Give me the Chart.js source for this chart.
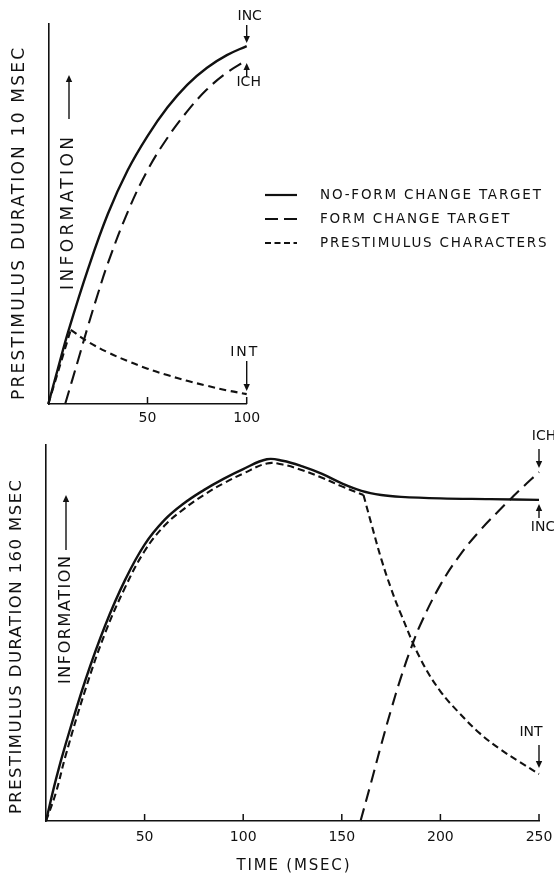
<!DOCTYPE html>
<html><head><meta charset="utf-8">
<script src="https://cdn.jsdelivr.net/npm/chart.js@4.4.1/dist/chart.umd.min.js"></script>
<style>
html,body{margin:0;padding:0;background:#fff;}
#wrap{position:relative;width:554px;height:879px;overflow:hidden;background:#fff;}
.box{position:absolute;left:0;}
</style></head><body>
<div id="wrap">
<div class="box" style="top:0;width:554px;height:430px"><canvas id="c1" width="554" height="430"></canvas></div>
<div class="box" style="top:420px;width:554px;height:459px"><canvas id="c2" width="554" height="459"></canvas></div>
</div>
<script>
// ---------- DATA ----------
const topTickLabels = [50, 100];
const botTickLabels = [50, 100, 150, 200, 250];
const legendLabels = ['NO-FORM CHANGE TARGET', 'FORM CHANGE TARGET', 'PRESTIMULUS CHARACTERS'];

// top panel: prestimulus duration 10 msec
const topNoFormX = [0, 5, 10, 20, 30, 40, 50, 60, 70, 80, 90, 100];
const topNoFormY = [0, 9.6, 19, 35.5, 50, 61.5, 70.5, 78, 84, 88.5, 91.8, 94.2];
const topFormX = [8.5, 15, 20, 25, 30, 40, 50, 60, 70, 80, 90, 100];
const topFormY = [0, 11.5, 20.5, 29, 37, 50.5, 61.5, 70, 77, 82.8, 87.2, 90.5];
const topPreRiseX = [0, 11.3];
const topPreRiseY = [0, 19.5];
const topPreFallX = [11.3, 20, 30, 40, 50, 60, 70, 80, 90, 100];
const topPreFallY = [19.5, 16.4, 13.6, 11.3, 9.3, 7.6, 6.1, 4.8, 3.6, 2.6];

// bottom panel: prestimulus duration 160 msec
const botNoFormX = [0, 5, 10, 20, 30, 40, 50, 60, 70, 80, 90, 100, 112, 120, 130, 140, 150, 160, 170, 180, 200, 225, 250];
const botNoFormY = [0, 11, 20.5, 37.5, 52, 64, 73.5, 80, 84.5, 88, 91, 93.6, 96.2, 95.8, 94.3, 92.3, 89.8, 87.8, 86.7, 86.2, 85.8, 85.6, 85.4];
const botFormX = [159.5, 165, 170, 175, 180, 185, 190, 200, 210, 220, 230, 240, 250];
const botFormY = [0, 10.5, 20.3, 29.6, 38.2, 45.8, 52.4, 62.8, 70.8, 77.2, 82.7, 87.9, 92.8];
const botPreRiseX = [0, 5, 10, 20, 30, 40, 50, 60, 70, 80, 90, 100, 112, 120, 130, 140, 150, 161];
const botPreRiseY = [0, 7.5, 17.5, 35, 50, 62, 71.8, 78.5, 83, 86.7, 89.8, 92.4, 95.1, 94.8, 93.3, 91.3, 89, 86.7];
const botPreFallX = [161, 165, 170, 175, 180, 190, 200, 210, 220, 230, 240, 250];
const botPreFallY = [86.7, 79, 69.7, 61.8, 55, 43, 34.5, 28.5, 23.3, 19.2, 15.8, 12.5];

// ---------- STYLE ----------
const INK = '#111111';
const FONT = '"DejaVu Sans", "Liberation Sans", sans-serif';

function pts(xs, ys) { return xs.map((x, i) => ({ x: x, y: ys[i] })); }
function last(a) { return a[a.length - 1]; }
function ds(label, xs, ys, dash, width) {
  return {
    label: label, data: pts(xs, ys), borderColor: INK, backgroundColor: INK,
    borderWidth: width, borderDash: dash, pointRadius: 0, pointHoverRadius: 0,
    fill: false, tension: 0.4, borderCapStyle: 'butt',
    borderJoinStyle: 'round', clip: 4
  };
}

function spacedText(ctx, text, cx, cy, size, target, rot) {
  ctx.save();
  ctx.font = size + 'px ' + FONT;
  ctx.fillStyle = INK;
  ctx.translate(cx, cy);
  if (rot) ctx.rotate(rot);
  ctx.textBaseline = 'middle';
  const hasLS = ('letterSpacing' in ctx);
  if (hasLS) ctx.letterSpacing = '0px';
  const w0 = ctx.measureText(text).width;
  if (!target) {
    ctx.textAlign = 'center';
    ctx.fillText(text, 0, 0);
  } else if (hasLS) {
    const sp = (target - w0) / (text.length - 1);
    ctx.letterSpacing = sp + 'px';
    ctx.textAlign = 'left';
    ctx.fillText(text, -target / 2, 0);
  } else {
    ctx.textAlign = 'center';
    ctx.fillText(text, 0, 0);
  }
  ctx.restore();
}

function leftText(ctx, text, x, y, size, spacing) {
  ctx.save();
  ctx.font = size + 'px ' + FONT;
  ctx.fillStyle = INK;
  ctx.textBaseline = 'middle';
  ctx.textAlign = 'left';
  if ('letterSpacing' in ctx) ctx.letterSpacing = spacing + 'px';
  ctx.fillText(text, x, y);
  ctx.restore();
}

function arrow(ctx, x, yFrom, yTo) {
  ctx.save();
  ctx.strokeStyle = INK; ctx.fillStyle = INK; ctx.lineWidth = 1.4;
  const dir = Math.sign(yTo - yFrom);
  const hl = 7, hw = 3.2;
  ctx.beginPath(); ctx.moveTo(x, yFrom); ctx.lineTo(x, yTo - dir * hl); ctx.stroke();
  ctx.beginPath(); ctx.moveTo(x, yTo); ctx.lineTo(x - hw, yTo - dir * hl);
  ctx.lineTo(x + hw, yTo - dir * hl); ctx.closePath(); ctx.fill();
  ctx.restore();
}

function inwardTicks(chart, len) {
  const xs = chart.scales.x, ctx = chart.ctx, b = chart.chartArea.bottom;
  ctx.save(); ctx.strokeStyle = INK; ctx.lineWidth = 1.5;
  xs.ticks.forEach(t => {
    const px = xs.getPixelForValue(t.value);
    ctx.beginPath(); ctx.moveTo(px, b); ctx.lineTo(px, b - len); ctx.stroke();
  });
  ctx.restore();
}

function makeOptions(xmax, ticks, pad, xH, yW, tickPad) {
  return {
    responsive: false, animation: false, devicePixelRatio: 1,
    layout: { padding: pad },
    events: [],
    plugins: { legend: { display: false }, tooltip: { enabled: false } },
    scales: {
      x: {
        type: 'linear', min: 0, max: xmax,
        afterBuildTicks: (s) => { s.ticks = ticks.map(v => ({ value: v })); },
        afterFit: (s) => { s.height = xH; s.paddingRight = 0; s.paddingLeft = 0; },
        grid: { display: false, drawTicks: false },
        border: { display: true, color: INK, width: 1.6 },
        ticks: { color: INK, font: { family: FONT, size: 14 }, padding: tickPad, maxRotation: 0, autoSkip: false,
                 callback: (v) => String(v) }
      },
      y: {
        type: 'linear', min: 0, max: 100,
        afterFit: (s) => { s.width = yW; s.paddingTop = 0; s.paddingBottom = 0; },
        grid: { display: false, drawTicks: false },
        border: { display: true, color: INK, width: 1.6 },
        ticks: { display: false }
      }
    }
  };
}

// ---------- TOP CHART ----------
function drawTop(chart) {
  const ctx = chart.ctx, xs = chart.scales.x, ys = chart.scales.y;
  inwardTicks(chart, 7);
  const xEnd = xs.getPixelForValue(100);
  const yInc = ys.getPixelForValue(last(topNoFormY));
  const yIch = ys.getPixelForValue(last(topFormY));
  const yInt = ys.getPixelForValue(last(topPreFallY));
  spacedText(ctx, 'INC', xEnd + 3, yInc - 30, 14, 0);
  arrow(ctx, xEnd, yInc - 21, yInc - 3);
  arrow(ctx, xEnd, yIch + 17, yIch + 3);
  spacedText(ctx, 'ICH', xEnd + 2, yIch + 22, 14, 0);
  spacedText(ctx, 'INT', xEnd - 3, yInt - 42, 14, 27);
  arrow(ctx, xEnd, yInt - 33, yInt - 3);

  // axis title and information arrow
  spacedText(ctx, 'PRESTIMULUS DURATION 10 MSEC', 20, 224, 17, 352, -Math.PI / 2);
  spacedText(ctx, 'INFORMATION', 69, 213.5, 17, 153, -Math.PI / 2);
  arrow(ctx, 69, 119, 75);

  // legend
  const rows = [195, 219, 243];
  const dashes = [[], [13, 6], [6, 3.5]];
  ctx.save();
  ctx.strokeStyle = INK;
  rows.forEach((y, i) => {
    ctx.lineWidth = i === 0 ? 2.2 : 2;
    ctx.setLineDash(dashes[i]);
    ctx.beginPath(); ctx.moveTo(265, y); ctx.lineTo(297, y); ctx.stroke();
  });
  ctx.restore();
  rows.forEach((y, i) => leftText(ctx, legendLabels[i], 320, y, 13.5, 1.8));
}

new Chart(document.getElementById('c1'), {
  type: 'line',
  data: {
    datasets: [
      ds(legendLabels[0], topNoFormX, topNoFormY, [], 2.4),
      ds(legendLabels[1], topFormX, topFormY, [14, 7], 2.1),
      ds(legendLabels[2], topPreRiseX, topPreRiseY, [7, 4.5], 2.1),
      ds(legendLabels[2], topPreFallX, topPreFallY, [7, 4.5], 2.1)
    ]
  },
  options: makeOptions(100, topTickLabels, { left: 0, top: 24, right: 307.3, bottom: 0 }, 26, 48.3, 6),
  plugins: [{ id: 'ovTop', afterDraw: drawTop }]
});

// ---------- BOTTOM CHART ----------
const OFF = 420;
function drawBot(chart) {
  const ctx = chart.ctx, xs = chart.scales.x, ys = chart.scales.y;
  inwardTicks(chart, 7);
  const xEnd = xs.getPixelForValue(250);
  const yInc = ys.getPixelForValue(last(botNoFormY));
  const yIch = ys.getPixelForValue(last(botFormY));
  const yInt = ys.getPixelForValue(last(botPreFallY));
  spacedText(ctx, 'ICH', xEnd + 5, yIch - 36, 14, 0);
  arrow(ctx, xEnd, yIch - 23, yIch - 4);
  arrow(ctx, xEnd, yInc + 18, yInc + 4);
  spacedText(ctx, 'INC', xEnd + 4, yInc + 27, 14, 0);
  spacedText(ctx, 'INT', xEnd - 8, yInt - 42, 14, 0);
  arrow(ctx, xEnd, yInt - 29, yInt - 6);

  spacedText(ctx, 'PRESTIMULUS DURATION 160 MSEC', 17, 647 - OFF, 16.5, 334, -Math.PI / 2);
  spacedText(ctx, 'INFORMATION', 66, 620 - OFF, 16, 128, -Math.PI / 2);
  arrow(ctx, 66, 550 - OFF, 495 - OFF);
  spacedText(ctx, 'TIME (MSEC)', 293, 866 - OFF, 15, 113, 0);
}

new Chart(document.getElementById('c2'), {
  type: 'line',
  data: {
    datasets: [
      ds(legendLabels[0], botNoFormX, botNoFormY, [], 2.4),
      ds(legendLabels[1], botFormX, botFormY, [13, 7], 2.1),
      ds(legendLabels[2], botPreRiseX, botPreRiseY, [7, 4], 2.1),
      ds(legendLabels[2], botPreFallX, botPreFallY, [7, 4], 2.1)
    ]
  },
  options: makeOptions(250, botTickLabels, { left: 0, top: 25, right: 15, bottom: 0 }, 58, 46, 8),
  plugins: [{ id: 'ovBot', afterDraw: drawBot }]
});
</script>
</body></html>
